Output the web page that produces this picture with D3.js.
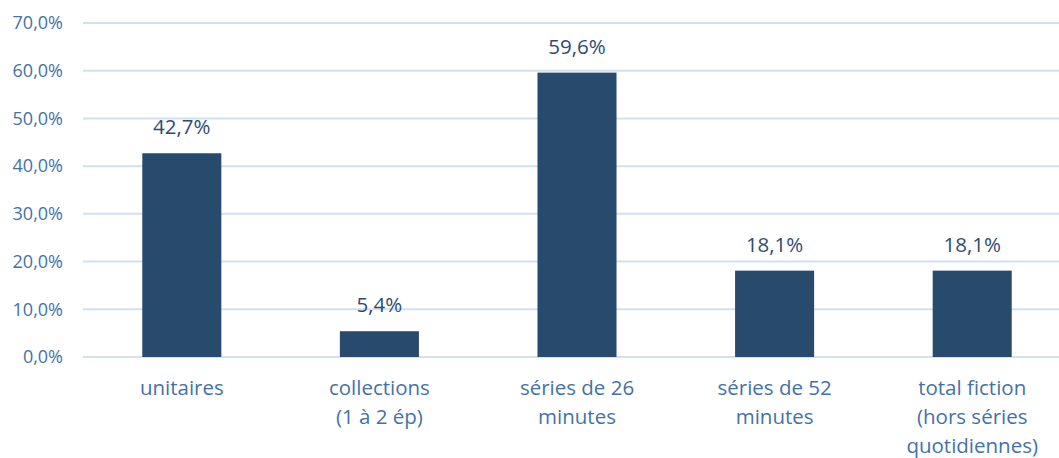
<!DOCTYPE html>
<meta charset="utf-8">
<style>
  body { margin: 0; background: #fff; font-family: "Open Sans", sans-serif; }
  .tick-label { fill: #4472a6; font-size: 18px; }
  .cat-label { fill: #4472a6; font-size: 20.5px; }
  .val-label { fill: #2e4d70; font-size: 20.5px; }
  .bar { fill: #284a6d; }
  .grid line { stroke: #d3e0f0; stroke-width: 2; }
</style>
<body>
<script src="https://cdn.jsdelivr.net/npm/d3@7"></script>
<script>
  var categories = [
    ["unitaires"],
    ["collections", "(1 à 2 ép)"],
    ["séries de 26", "minutes"],
    ["séries de 52", "minutes"],
    ["total fiction", "(hors séries", "quotidiennes)"]
  ];
  var values = [42.7, 5.4, 59.6, 18.1, 18.1];
  var yTicks = [0, 10, 20, 30, 40, 50, 60, 70];

  var W = 1059, H = 458;
  var svg = d3.select("body").append("svg")
    .attr("width", W)
    .attr("height", H);

  var x = d3.scaleBand()
    .domain(d3.range(categories.length))
    .range([83, 1071])
    .paddingInner(0.6)
    .paddingOuter(0.3);

  var y = d3.scaleLinear()
    .domain([0, 70])
    .range([357, 23]);

  var fmt = function (v) { return v.toFixed(1).replace(".", ",") + "%"; };

  // gridlines
  svg.append("g").attr("class", "grid")
    .selectAll("line")
    .data(yTicks)
    .enter().append("line")
    .attr("x1", 83).attr("x2", W)
    .attr("y1", function (d) { return y(d); })
    .attr("y2", function (d) { return y(d); });

  // y tick labels
  svg.append("g")
    .selectAll("text")
    .data(yTicks)
    .enter().append("text")
    .attr("class", "tick-label")
    .attr("x", 63)
    .attr("y", function (d) { return y(d); })
    .attr("dy", "0.35em")
    .attr("text-anchor", "end")
    .text(fmt);

  // bars
  svg.selectAll(".bar")
    .data(values)
    .enter().append("rect")
    .attr("class", "bar")
    .attr("x", function (d, i) { return x(i); })
    .attr("y", function (d) { return y(d); })
    .attr("width", x.bandwidth())
    .attr("height", function (d) { return y(0) - y(d); });

  // value labels
  svg.selectAll(".val-label")
    .data(values)
    .enter().append("text")
    .attr("class", "val-label")
    .attr("x", function (d, i) { return x(i) + x.bandwidth() / 2; })
    .attr("y", function (d) { return y(d) - 19; })
    .attr("text-anchor", "middle")
    .text(fmt);

  // category labels
  var cats = svg.selectAll(".cat-label")
    .data(categories)
    .enter().append("text")
    .attr("class", "cat-label")
    .attr("text-anchor", "middle")
    .attr("transform", function (d, i) {
      return "translate(" + (x(i) + x.bandwidth() / 2) + ",395)";
    });
  cats.selectAll("tspan")
    .data(function (d) { return d; })
    .enter().append("tspan")
    .attr("x", 0)
    .attr("y", function (d, j) { return j * 29; })
    .text(function (d) { return d; });
</script>
</body>
